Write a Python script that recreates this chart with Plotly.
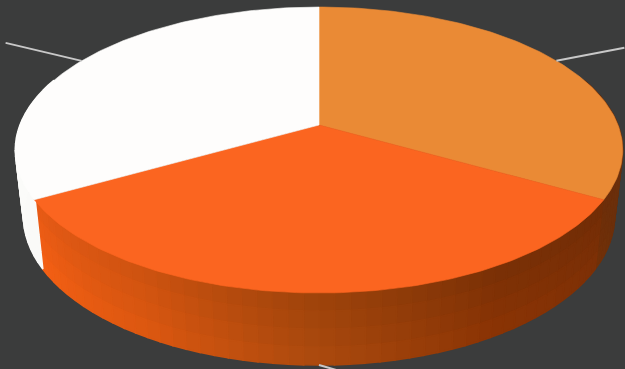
import numpy as np
import plotly.graph_objects as go

# Slice shares, clockwise from twelve o'clock
slice_names = ["A", "B", "C"]
slice_values = [33.2, 33.6, 33.2]
top_colors = ["#ea8a35", "#fb6520", "#fefdfc"]

WIDTH, HEIGHT = 625, 369
TILT = 0.175  # perspective strength of the tilted disc


def project(deg, cx, cy, ax, by):
    """Map an angle on the unit disc to page coordinates with perspective."""
    a = np.radians(deg)
    x, y = np.sin(a), -np.cos(a)
    s = 1 / (1 - TILT * y)
    return cx + ax * x * s, cy + by * y * s


def rim_top(deg):
    return project(deg, 319, 125, 299, 138.6)


def rim_base(deg):
    return project(deg, 319, 190, 291, 144.4)


def mix(c1, c2, t):
    return tuple(c1[i] + (c2[i] - c1[i]) * t for i in range(3))


# Side-wall shading: angle -> (colour just below the rim, colour at the base)
wall_stops = [
    (85, (100, 48, 16), (96, 46, 14)),
    (119.4, (108, 46, 10), (114, 48, 8)),
    (119.5, (112, 44, 6), (126, 48, 6)),
    (150, (120, 48, 6), (140, 52, 4)),
    (180, (156, 66, 10), (172, 74, 14)),
    (210, (204, 82, 16), (222, 88, 16)),
    (240.3, (230, 90, 22), (246, 96, 20)),
    (240.4, (250, 250, 248), (250, 250, 248)),
    (280, (252, 252, 250), (252, 252, 250)),
]


def wall_color(deg, t):
    angles = [s[0] for s in wall_stops]
    upper = [np.interp(deg, angles, [s[1][i] for s in wall_stops]) for i in range(3)]
    lower = [np.interp(deg, angles, [s[2][i] for s in wall_stops]) for i in range(3)]
    r, g, b = mix(upper, lower, t)
    return f"rgb({r:.0f},{g:.0f},{b:.0f})"


def polygon(xs, ys, color, width=0.6):
    return go.Scatter(
        x=xs, y=ys, mode="lines", fill="toself", fillcolor=color,
        line=dict(color=color, width=width), hoverinfo="skip", showlegend=False,
    )


fig = go.Figure()

# Side wall, built from narrow facets so the shading runs round the rim
step = 2.5
bands = 4
for d0 in np.arange(70, 290, step):
    d1 = d0 + step
    mid = (d0 + d1) / 2
    for k in range(bands):
        t0, t1 = k / bands, (k + 1) / bands
        tx0, ty0 = rim_top(d0)
        tx1, ty1 = rim_top(d1)
        bx0, by0 = rim_base(d0)
        bx1, by1 = rim_base(d1)
        xs = [tx0 + (bx0 - tx0) * t0, tx1 + (bx1 - tx1) * t0,
              tx1 + (bx1 - tx1) * t1, tx0 + (bx0 - tx0) * t1]
        ys = [ty0 + (by0 - ty0) * t0, ty1 + (by1 - ty1) * t0,
              ty1 + (by1 - ty1) * t1, ty0 + (by0 - ty0) * t1]
        fig.add_trace(polygon(xs + xs[:1], ys + ys[:1],
                              wall_color(mid, (t0 + t1) / 2), width=1.6))

# Top face of each slice
shares = np.array(slice_values) / sum(slice_values) * 360
starts = np.concatenate([[0], np.cumsum(shares)[:-1]])
for start, span, color in zip(starts, shares, top_colors):
    arc = np.linspace(start, start + span, 120)
    xs, ys = rim_top(arc)
    cx, cy = rim_top(0)[0], 125
    fig.add_trace(polygon([cx, *xs, cx], [cy, *ys, cy], color))

# Leader lines leave the rim at each slice's mid-angle
leader_offsets = [(68, -13), (42, 12), (-76, -18)]
for start, span, (ox, oy) in zip(starts, shares, leader_offsets):
    mid = start + span / 2
    px, py = rim_base(mid) if 100 < mid < 260 else rim_top(mid)
    fig.add_trace(go.Scatter(
        x=[px, px + ox], y=[py, py + oy], mode="lines",
        line=dict(color="#c8c8c8", width=2), hoverinfo="skip", showlegend=False,
    ))

fig.update_layout(
    width=WIDTH, height=HEIGHT, margin=dict(l=0, r=0, t=0, b=0),
    paper_bgcolor="#3b3c3c", plot_bgcolor="#3b3c3c", showlegend=False,
    xaxis=dict(range=[0, WIDTH], visible=False, fixedrange=True),
    yaxis=dict(range=[HEIGHT, 0], visible=False, fixedrange=True),
)
fig.write_html("out.html", config={"displayModeBar": False})
